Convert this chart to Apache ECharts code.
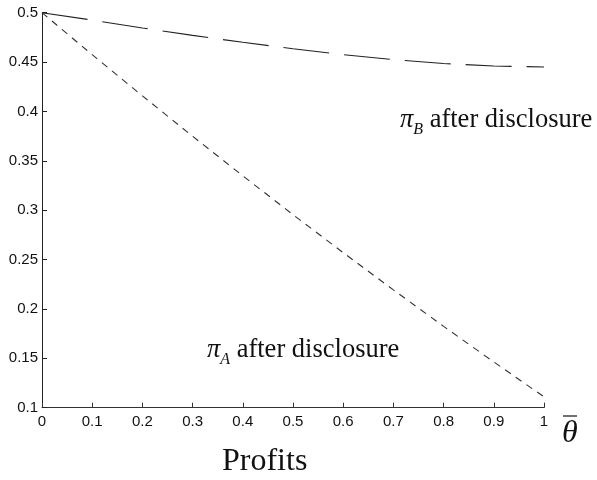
<!DOCTYPE html>
<html>
<head>
<meta charset="utf-8">
<script src="https://cdn.jsdelivr.net/npm/echarts@6/dist/echarts.min.js"></script>
<style>
html,body{margin:0;padding:0;background:#fff;}
#chart{width:597px;height:480px;}
</style>
</head>
<body>
<div id="chart"></div>
<script>
// Data
var thetaBar = [0, 0.1, 0.2, 0.3, 0.4, 0.5, 0.6, 0.7, 0.8, 0.9, 1.0];
var piA = [0.5, 0.4575, 0.4158, 0.3749, 0.3348, 0.2955, 0.257, 0.2193, 0.1824, 0.1463, 0.111];
var piB = [0.5, 0.4925, 0.4845, 0.477, 0.470, 0.4635, 0.4575, 0.4525, 0.4485, 0.446, 0.445];
var xTickMin = 0, xTickMax = 1, xTickStep = 0.1;
var yTickMin = 0.1, yTickMax = 0.5, yTickStep = 0.05;
var labelA = 'after disclosure';
var labelB = 'after disclosure';
var xTitle = 'Profits';

function pairs(xs, ys) { return xs.map(function (x, i) { return [x, ys[i]]; }); }

var chart = echarts.init(document.getElementById('chart'), null, {renderer: 'canvas'});
var axisFont = {fontFamily: 'Liberation Sans, Arial, sans-serif', fontSize: 15, color: '#111'};
var serif = 'Liberation Serif, Times New Roman, serif';
function richLabel() {
  return {
    p: {fontFamily: serif, fontStyle: 'italic', fontSize: 26.5, fill: '#111', verticalAlign: 'bottom', lineHeight: 28},
    s: {fontFamily: serif, fontStyle: 'italic', fontSize: 16, fill: '#111', verticalAlign: 'bottom', lineHeight: 20, padding: [0, 0, -4, 0]},
    t: {fontFamily: serif, fontSize: 26.5, fill: '#111', verticalAlign: 'bottom', lineHeight: 28}
  };
}

chart.setOption({
  animation: false,
  backgroundColor: '#fff',
  grid: {left: 42, right: 53, top: 12.7, bottom: 72.3, containLabel: false},
  xAxis: {
    type: 'value', min: xTickMin, max: xTickMax, interval: xTickStep,
    axisLine: {show: true, onZero: false, lineStyle: {color: '#333', width: 1}},
    axisTick: {show: true, inside: true, length: 5, lineStyle: {color: '#333'}},
    axisLabel: Object.assign({margin: 7}, axisFont),
    splitLine: {show: false}
  },
  yAxis: {
    type: 'value', min: yTickMin, max: yTickMax, interval: yTickStep,
    axisLine: {show: true, onZero: false, lineStyle: {color: '#222', width: 1}},
    axisTick: {show: true, inside: true, length: 5, lineStyle: {color: '#222'}},
    axisLabel: Object.assign({margin: 4}, axisFont),
    splitLine: {show: false}
  },
  series: [
    {
      name: 'piA', type: 'line', data: pairs(thetaBar, piA), showSymbol: false,
      smooth: false,
      lineStyle: {color: '#333', width: 1.1, type: [7, 6]}
    },
    {
      name: 'piB', type: 'line', data: pairs(thetaBar, piB), showSymbol: false,
      smooth: false,
      lineStyle: {color: '#222', width: 1.1, type: [46, 15]}
    }
  ],
  graphic: [
    {
      type: 'text', left: 400, top: 107,
      style: {text: '{p|π}{s|B}{t| ' + labelB + '}', rich: richLabel()}
    },
    {
      type: 'text', left: 207, top: 337,
      style: {text: '{p|π}{s|A}{t| ' + labelA + '}', rich: richLabel()}
    },
    {
      type: 'text', left: 222, top: 446,
      style: {text: xTitle, fontFamily: serif, fontSize: 32, fill: '#111'}
    },
    {
      type: 'text', left: 562, top: 418,
      style: {text: 'θ', fontFamily: serif, fontStyle: 'italic', fontSize: 32, fill: '#111'}
    },
    {
      type: 'line', shape: {x1: 563, y1: 416, x2: 577, y2: 416},
      style: {stroke: '#111', lineWidth: 1.2}
    }
  ]
});
</script>
</body>
</html>
